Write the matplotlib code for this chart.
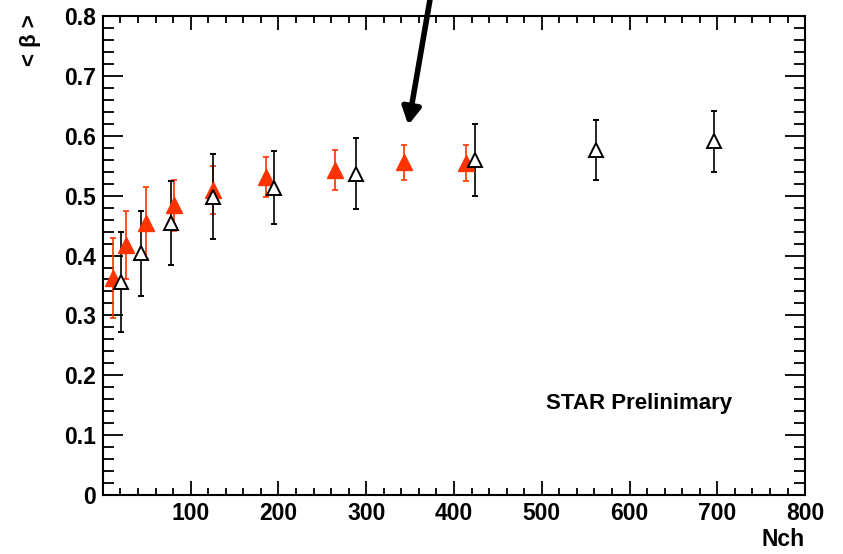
import matplotlib.pyplot as plt
from matplotlib.ticker import MultipleLocator, FixedLocator

plt.rcParams["font.family"] = ["Liberation Sans", "DejaVu Sans"]
plt.rcParams["font.weight"] = "bold"

# red filled triangles
red_x = [11, 26, 49, 81, 125, 186, 265, 343, 414]
red_y = [0.362, 0.418, 0.455, 0.484, 0.509, 0.531, 0.543, 0.556, 0.554]
red_err = [0.067, 0.057, 0.060, 0.043, 0.040, 0.034, 0.033, 0.029, 0.030]

# black open triangles
blk_x = [21, 44, 78, 126, 195, 288, 424, 562, 696]
blk_y = [0.356, 0.404, 0.455, 0.498, 0.513, 0.537, 0.559, 0.576, 0.591]
blk_err = [0.083, 0.071, 0.070, 0.071, 0.061, 0.060, 0.060, 0.050, 0.051]

x_ticks = [100, 200, 300, 400, 500, 600, 700, 800]
y_ticks = [0, 0.1, 0.2, 0.3, 0.4, 0.5, 0.6, 0.7, 0.8]

fig = plt.figure(figsize=(8.43, 5.54), dpi=100)
ax = fig.add_axes([0.122, 0.1065, 0.833, 0.8645])

red = "#ff3300"
ax.errorbar(red_x, red_y, yerr=red_err, fmt="^", color=red, ecolor=red,
            markersize=11.5, elinewidth=1.2, capsize=2.5, capthick=1.2)
ax.errorbar(blk_x, blk_y, yerr=blk_err, fmt="^", color="black", mfc="white",
            mec="black", markersize=10, mew=1.4, elinewidth=1.2, capsize=2.5,
            capthick=1.2)

ax.set_xlim(0, 800)
ax.set_ylim(0, 0.8)
ax.xaxis.set_major_locator(FixedLocator(x_ticks))
ax.xaxis.set_minor_locator(MultipleLocator(20))
ax.yaxis.set_major_locator(FixedLocator(y_ticks))
ax.yaxis.set_minor_locator(MultipleLocator(0.02))
ax.set_yticklabels(["0", "0.1", "0.2", "0.3", "0.4", "0.5", "0.6", "0.7", "0.8"])

ax.tick_params(axis="both", which="both", direction="in", top=True, right=True,
               labelsize=16.5, width=1.3, pad=5)
ax.tick_params(axis="x", which="major", length=10)
ax.tick_params(axis="x", which="minor", length=5)
ax.tick_params(axis="y", which="major", length=14.5)
ax.tick_params(axis="y", which="minor", length=8)
for s in ax.spines.values():
    s.set_linewidth(1.5)
for lab in ax.get_xticklabels() + ax.get_yticklabels():
    lab.set_fontweight("bold")

ax.set_xlabel("Nch", loc="right", fontsize=16.5, fontweight="bold", labelpad=2)
fig.text(0.036, 0.975, "< β >", rotation=90, ha="center", va="top",
         fontsize=16, fontweight="bold")

ax.text(505, 0.143, "STAR Prelinimary", fontsize=16, fontweight="bold")

ax.annotate("", xy=(348, 0.618), xytext=(373, 0.83),
            annotation_clip=False,
            arrowprops=dict(arrowstyle="-|>,head_length=1.0,head_width=0.55",
                            lw=4, color="black", shrinkA=0, shrinkB=0))

fig.savefig("out.png", dpi=100)
